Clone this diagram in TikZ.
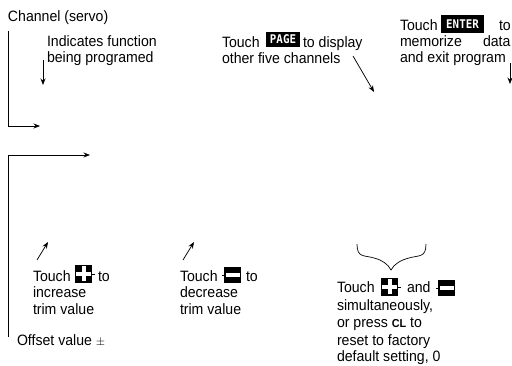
\documentclass[tikz,border=0pt]{standalone}
\usepackage{fontspec}
\setmainfont[FakeStretch=0.94]{Liberation Sans}
\newfontfamily\keyfont[FakeStretch=0.9]{DejaVu Sans Mono}
\usetikzlibrary{arrows.meta}
\tikzset{
  lbl/.style={anchor=base west,inner sep=0pt,outer sep=0pt,font=\fontsize{15}{16}\selectfont,text=black},
  keybox/.style={anchor=north west,fill=black,text=white,inner sep=0pt,outer sep=0pt,align=center,font=\keyfont\bfseries\fontsize{12}{12}\selectfont},
  conn/.style={line width=0.75pt,draw=black,-{Stealth[length=6.5pt,width=5pt]}},
  plain/.style={line width=0.7pt,draw=black}
}
\begin{document}
\begin{tikzpicture}[x=1pt,y=-1pt]
\useasboundingbox (0,0) rectangle (512,366);
% top left
\node[lbl] (chan) at (8,22) {Channel (servo)};
\node[lbl] (ind1) at (47,47) {Indicates function};
\node[lbl] (ind2) at (47,63) {being programed};
% page
\node[lbl] (pg1) at (222,48) {Touch};
\node[keybox,minimum width=34pt,minimum height=15pt] (pagekey) at (266,32) {PAGE};
\node[lbl] (pg2) at (303,48) {to display};
\node[lbl] (pg3) at (222,64) {other five channels};
% enter
\node[lbl] (en1) at (400,31) {Touch};
\node[keybox,minimum width=43pt,minimum height=18pt] (enterkey) at (441,15) {ENTER};
\node[lbl] (en2) at (499,31) {to};
\node[lbl] (en3) at (400,47) {memorize};
\node[lbl] (en4) at (483,47) {data};
\node[lbl] (en5) at (400,63) {and exit program};
% plus / minus captions
\node[lbl] (p1) at (33,282) {Touch};
\node[keybox,minimum width=17pt,minimum height=18pt] (pluskey) at (75,265) {};
\node[lbl] (p2) at (98,282) {to};
\node[lbl] (p3) at (33,298) {increase};
\node[lbl] (p4) at (33,315) {trim value};
\node[lbl] (m1) at (180,282) {Touch};
\node[keybox,minimum width=17pt,minimum height=16pt] (minuskey) at (224,267) {};
\node[lbl] (m2) at (246,282) {to};
\node[lbl] (m3) at (180,298) {decrease};
\node[lbl] (m4) at (180,315) {trim value};
\node[lbl] (off) at (17,346) {Offset value {\fontsize{13}{16}\selectfont$\pm$}};
% reset
\node[lbl] (r1) at (337,293) {Touch};
\node[keybox,minimum width=17pt,minimum height=18pt] (pluskeyb) at (381,278) {};
\node[lbl] (r2) at (407,293) {and};
\node[keybox,minimum width=17pt,minimum height=16pt] (minuskeyb) at (438,280) {};
\node[lbl] (r3) at (337,311) {simultaneously,};
\node[lbl] (r4) at (337,328) {or press {\bfseries\fontsize{11.5}{12}\selectfont CL} to};
\node[lbl] (r5) at (337,345) {reset to factory};
\node[lbl] (r6) at (337,362) {default setting, 0};
% key glyphs
\foreach \k in {pluskey,pluskeyb}{
  \fill[white] ([xshift=-7.5pt,yshift=-2pt]\k.center) rectangle ([xshift=7.5pt,yshift=2pt]\k.center);
  \fill[white] ([xshift=-2pt,yshift=-7.5pt]\k.center) rectangle ([xshift=2pt,yshift=7.5pt]\k.center);
  \draw[plain] (\k.east) -- ++(2.5,0);
}
\foreach \k in {minuskey,minuskeyb}{
  \fill[white] ([xshift=-7pt,yshift=-2pt]\k.center) rectangle ([xshift=7pt,yshift=2pt]\k.center);
  \draw[plain] (\k.west) -- ++(-2.5,0);
}
% free ends
\coordinate (c1a) at (8,31);
\coordinate (c1b) at (8,126);
\coordinate (c1c) at (40,126);
\coordinate (c2a) at (8,337);
\coordinate (c2b) at (8,155);
\coordinate (c2c) at (90,155);
\coordinate (i1) at (43,60);
\coordinate (i2) at (43,85);
\coordinate (g1) at (353,56);
\coordinate (g2) at (374,92);
\coordinate (e1) at (510,63);
\coordinate (e2) at (510,84);
\coordinate (u1) at (37,260);
\coordinate (u2) at (48,242);
\coordinate (v1) at (183,260);
\coordinate (v2) at (194,242);
% connectors
\draw[conn] (c1a) -- (c1b) -- (c1c);
\draw[conn] (c2a) -- (c2b) -- (c2c);
\draw[conn] (i1) -- (i2);
\draw[conn] (g1) -- (g2);
\draw[conn] (e1) -- (e2);
\draw[conn] (u1) -- (u2);
\draw[conn] (v1) -- (v2);
% brace
\coordinate (b1) at (357,244);
\coordinate (b2) at (426,244);
\coordinate (bt) at (391,270);
\draw[plain] (b1) .. controls (357,258) and (364,255) .. (374,258)
  .. controls (382,260) and (388,264) .. (bt)
  .. controls (394,264) and (401,260) .. (409,258)
  .. controls (419,255) and (426,258) .. (b2);
\end{tikzpicture}
\end{document}
